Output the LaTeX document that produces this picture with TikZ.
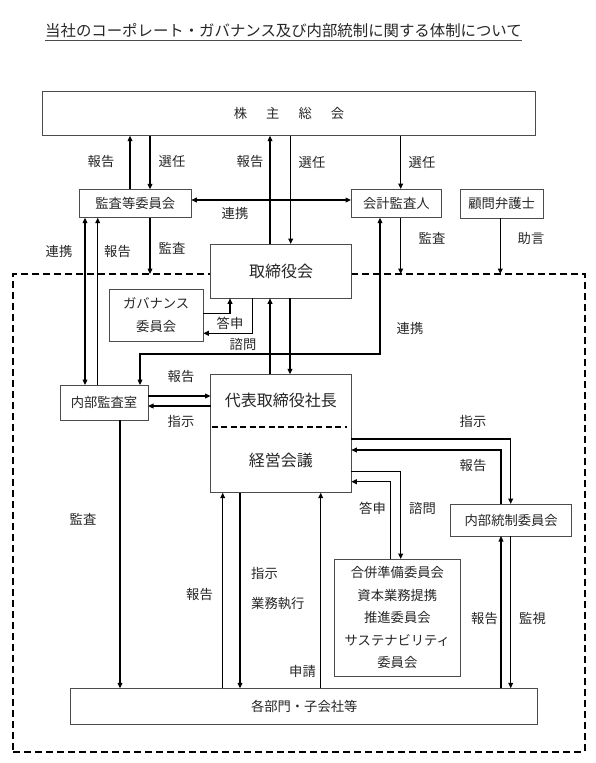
\documentclass[tikz,border=0pt]{standalone}
\usepackage{fontspec}
\setmainfont{Noto Sans CJK JP}
\usetikzlibrary{arrows.meta}
\begin{document}
\begin{tikzpicture}[x=1pt,y=-1pt,
  box/.style={draw=black!70, line width=0.9pt, fill=white, inner sep=0pt, outer sep=0pt,
    align=center, font=\fontsize{13.3}{22.5}\selectfont, text=black!85},
  plain/.style={inner sep=0pt, outer sep=0pt, align=center, text=black!85},
  big/.style={font=\fontsize{16}{20}\selectfont},
  lbl/.style={font=\fontsize{13.3}{15}\selectfont, text=black!85, inner sep=0pt},
  arr/.style={line width=1.2pt, -{Triangle[length=5.5pt,width=4.8pt]}},
  darr/.style={line width=1.2pt, {Triangle[length=5.5pt,width=4.8pt]}-{Triangle[length=5.5pt,width=4.8pt]}},
  frm/.style={draw=black, line width=1.9pt, dash pattern=on 7pt off 4pt, inner sep=0pt, outer sep=0pt}
]
\useasboundingbox (0,0) rectangle (596,763);

% title
\node[lbl, font=\fontsize{15.4}{18}\selectfont, anchor=base west] (title) at (45,36.5)
  {当社のコーポレート・ガバナンス及び内部統制に関する体制について};
\draw[black!70, line width=0.9pt] ([yshift=-3.5pt]title.base west) -- ([yshift=-3.5pt]title.base east);

% dashed frame
\node[frm, minimum width=571.7pt, minimum height=477.7pt] (frame) at (299.15,512.85) {};

% boxes
\node[box, minimum width=492.6pt, minimum height=44pt] (gm) at (289,113.7)
  {株\hspace{19pt}主\hspace{19pt}総\hspace{19pt}会};
\node[box, minimum width=112pt, minimum height=28.4pt] (kansa) at (135.3,203.5) {監査等委員会};
\node[box, minimum width=90.7pt, minimum height=28.7pt] (kaikei) at (396.35,203.35) {会計監査人};
\node[box, minimum width=82.7pt, minimum height=29pt] (komon) at (501.65,203.5) {顧問弁護士};
\node[box, big, minimum width=141.2pt, minimum height=54.3pt] (tori) at (281.1,271.15) {取締役会};
\node[box, minimum width=94.3pt, minimum height=51.7pt] (gov) at (156.15,315.15) {ガバナンス\\委員会};
\node[box, minimum width=88pt, minimum height=35pt] (naibu) at (104,402.5) {内部監査室};
\node[plain, big, minimum width=140.8pt, minimum height=53pt] (ceo) at (280.9,400.8) {代表取締役社長};
\node[plain, big, minimum width=140.8pt, minimum height=65.4pt] (keiei) at (280.9,460) {経営会議};
\draw[black!70, line width=0.9pt] (ceo.north west) rectangle (keiei.south east);
\draw[line width=1.9pt, dash pattern=on 6pt off 3.5pt] ([xshift=1pt]ceo.south west) -- ([xshift=-4pt]ceo.south east);
\node[box, minimum width=121pt, minimum height=32pt] (naitou) at (511.2,520) {内部統制委員会};
\node[box, minimum width=126.7pt, minimum height=117pt] (gappei) at (397.35,617.5)
  {合併準備委員会\\資本業務提携\\推進委員会\\サステナビリティ\\委員会};
\node[box, minimum width=467pt, minimum height=35.7pt] (bumon) at (304.2,706.15) {各部門・子会社等};

% connectors: top
\draw[arr] ([xshift=-5.3pt]kansa.north) -- ([xshift=-5.3pt]kansa.north |- gm.south);
\draw[arr] ([xshift=14.7pt]kansa.north |- gm.south) -- ([xshift=14.7pt]kansa.north);
\draw[darr] ([yshift=3.5pt]kansa.east) -- ([yshift=3.5pt]kansa.east -| kaikei.west);
\draw[arr] ([xshift=-11.1pt]tori.north) -- ([xshift=-11.1pt]tori.north |- gm.south);
\draw[arr] ([xshift=9.6pt]tori.north |- gm.south) -- ([xshift=9.6pt]tori.north);
\draw[arr] ([xshift=4.35pt]kaikei.north |- gm.south) -- ([xshift=4.35pt]kaikei.north);
\draw[arr] ([xshift=4.35pt]kaikei.south) -- ([xshift=4.35pt]kaikei.south |- frame.north);
\draw[arr] ([xshift=-1.35pt]komon.south) -- ([xshift=-1.35pt]komon.south |- frame.north);
\draw[arr] ([xshift=14.7pt]kansa.south) -- ([xshift=14.7pt]kansa.south |- frame.north);
\draw[darr] ([xshift=-50.3pt]kansa.south) -- ([xshift=-50.3pt]kansa.south |- naibu.north);
\draw[arr] ([xshift=-37.6pt]kansa.south |- naibu.north) -- ([xshift=-37.6pt]kansa.south);
\draw[darr] ([xshift=-16.35pt]kaikei.south) -- ([xshift=-16.35pt,yshift=20.3pt]kaikei.south |- ceo.north)
  -| ([xshift=36pt]naibu.north);

% governance committee
\draw[arr] ([yshift=1.85pt]gov.east) -| ([xshift=-51.1pt]tori.south);
\draw[arr] ([xshift=-28.4pt]tori.south) |- ([yshift=-18.15pt]gov.east);

% board <-> president
\draw[arr] ([xshift=-11.1pt]tori.south |- ceo.north) -- ([xshift=-11.1pt]tori.south);
\draw[arr] ([xshift=8.9pt]tori.south) -- ([xshift=8.9pt]tori.south |- ceo.north);

% internal audit <-> president
\draw[arr] ([yshift=6.5pt]naibu.east) -- ([yshift=6.5pt]naibu.east -| ceo.west);
\draw[arr] ([yshift=-3.5pt]naibu.east -| ceo.west) -- ([yshift=-3.5pt]naibu.east);

% management meeting <-> committees
\draw[arr] ([yshift=21pt]keiei.east) -| ([xshift=-0.5pt]naitou.north);
\draw[arr] ([xshift=-10.2pt]naitou.north) |- ([yshift=10pt]keiei.east);
\draw[arr] ([yshift=-11.7pt]keiei.east) -| ([xshift=3.35pt]gappei.north);
\draw[arr] ([xshift=-6.65pt]gappei.north) |- ([yshift=-21.7pt]keiei.east);

% to/from departments
\draw[arr] ([xshift=16pt]naibu.south) -- ([xshift=16pt]naibu.south |- bumon.north);
\draw[arr] ([xshift=-58.2pt]keiei.south |- bumon.north) -- ([xshift=-58.2pt]keiei.south);
\draw[arr] ([xshift=-40.9pt]keiei.south) -- ([xshift=-40.9pt]keiei.south |- bumon.north);
\draw[arr] ([xshift=39.8pt]keiei.south |- bumon.north) -- ([xshift=39.8pt]keiei.south);
\draw[arr] ([xshift=-10.2pt]naitou.south |- bumon.north) -- ([xshift=-10.2pt]naitou.south);
\draw[arr] ([xshift=-0.5pt]naitou.south) -- ([xshift=-0.5pt]naitou.south |- bumon.north);

% labels
\node[lbl] (l01) at (101,161.7) {報告};
\node[lbl] (l02) at (172,161.7) {選任};
\node[lbl] (l03) at (250,162) {報告};
\node[lbl] (l04) at (312,162) {選任};
\node[lbl] (l05) at (422,162) {選任};
\node[lbl] (l06) at (235,213) {連携};
\node[lbl] (l07) at (59,251.7) {連携};
\node[lbl] (l08) at (117.5,251.7) {報告};
\node[lbl] (l09) at (172,248) {監査};
\node[lbl] (l10) at (432,238) {監査};
\node[lbl] (l11) at (531,238) {助言};
\node[lbl] (l12) at (230,323) {答申};
\node[lbl] (l13) at (243,344) {諮問};
\node[lbl] (l14) at (410,328) {連携};
\node[lbl] (l15) at (181,377) {報告};
\node[lbl] (l16) at (181,421.7) {指示};
\node[lbl] (l17) at (473,421.7) {指示};
\node[lbl] (l18) at (473,465) {報告};
\node[lbl] (l19) at (372.5,508) {答申};
\node[lbl] (l20) at (422.5,508) {諮問};
\node[lbl] (l21) at (83,519) {監査};
\node[lbl] (l22) at (199.5,594) {報告};
\node[lbl, anchor=west] (l23) at (251,573.3) {指示};
\node[lbl, anchor=west] (l24) at (251,604) {業務執行};
\node[lbl, anchor=east] (l25) at (316,671.7) {申請};
\node[lbl] (l26) at (484.5,618) {報告};
\node[lbl] (l27) at (532.5,618) {監視};
\end{tikzpicture}
\end{document}
